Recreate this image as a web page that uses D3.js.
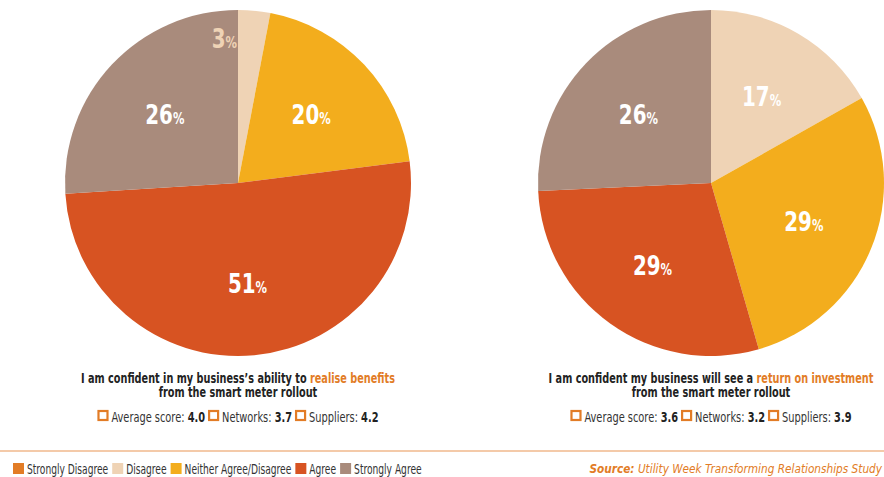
<!DOCTYPE html>
<html>
<head>
<meta charset="utf-8">
<script src="https://cdn.jsdelivr.net/npm/d3@7/dist/d3.min.js"></script>
<style>
  html, body { margin: 0; padding: 0; background: #fff; }
  svg { display: block; }
  text { font-family: "DejaVu Sans Condensed", "Liberation Sans Narrow", "Roboto", sans-serif; }
</style>
</head>
<body>
<svg id="chart" width="884" height="477"></svg>
<script>
// Response categories and their colours
const categories = ["Strongly Disagree", "Disagree", "Neither Agree/Disagree", "Agree", "Strongly Agree"];
const colors = ["#e27c26", "#efd3b5", "#f3ad1d", "#d75322", "#a98b7c"];

// Percentages per statement (same order as categories)
const benefitsValues = [0, 3, 20, 51, 26];
const returnValues = [0, 17, 29, 29, 26];

// Titles: plain part, highlighted part, closing line
const benefitsTitle = ["I am confident in my business’s ability to ", "realise benefits", "from the smart meter rollout"];
const returnTitle = ["I am confident my business will see a ", "return on investment", "from the smart meter rollout"];

// Score labels and values
const scoreLabels = ["Average score: ", "Networks: ", "Suppliers: "];
const benefitsScores = ["4.0", "3.7", "4.2"];
const returnScores = ["3.6", "3.2", "3.9"];

const sourceLabel = "Source:";
const sourceText = " Utility Week Transforming Relationships Study";

const accent = "#e27c26";
const dark = "#222";

const svg = d3.select("#chart");
const W = 884, H = 477;
const radius = 173;

// squeeze a text horizontally around its x anchor to get a condensed face
function condense(sel, k) {
  const x = +sel.attr("x");
  sel.attr("transform", `translate(${x},0) scale(${k},1) translate(${-x},0)`);
  return sel;
}

const color = d3.scaleOrdinal().domain(categories).range(colors);

const pie = d3.pie().sort(null).value(d => d.value);
const arc = d3.arc().innerRadius(0).outerRadius(radius);
const labelArc = d3.arc().innerRadius(radius * 0.58).outerRadius(radius * 0.58);

function drawPie(cx, cy, values) {
  const data = categories.map((c, i) => ({ cat: c, value: values[i] }));
  const g = svg.append("g").attr("transform", `translate(${cx},${cy})`);
  const arcs = pie(data).filter(d => d.data.value > 0);

  g.selectAll("path").data(arcs).join("path")
    .attr("d", arc)
    .attr("fill", d => color(d.data.cat));

  arcs.forEach(d => {
    const small = d.data.value < 5;
    let x, y, anchor;
    if (small) {
      // tiny slice: label sits just before the slice's leading edge
      const a = d.startAngle, r = radius * 0.84;
      x = Math.sin(a) * r - 1;
      y = -Math.cos(a) * r;
      anchor = "end";
    } else {
      [x, y] = labelArc.centroid(d);
      anchor = "middle";
    }
    const t = g.append("text")
      .attr("x", x).attr("y", y + 10)
      .attr("text-anchor", anchor)
      .attr("fill", small ? color(categories[1]) : "#fff")
      .attr("font-weight", "bold");
    t.append("tspan").attr("font-size", 26).text(d.data.value);
    t.append("tspan").attr("font-size", 15).text("%");
    condense(t, 0.85);
  });
}

function drawCaption(cx, title, scores) {
  const t1 = svg.append("text")
    .attr("x", cx).attr("y", 383.5)
    .attr("text-anchor", "middle")
    .attr("font-size", 13.5).attr("font-weight", "bold").attr("fill", dark);
  t1.append("tspan").text(title[0]);
  t1.append("tspan").attr("fill", accent).text(title[1]);
  condense(t1, 0.8);
  const t2 = svg.append("text")
    .attr("x", cx).attr("y", 397.5)
    .attr("text-anchor", "middle")
    .attr("font-size", 13.5).attr("font-weight", "bold").attr("fill", dark)
    .text(title[2]);
  condense(t2, 0.8);

  // score row: box + label + bold value, laid out by measured widths
  const k = 0.78;
  const row = svg.append("g");
  let x = 0;
  const box = 9;
  scoreLabels.forEach((lab, i) => {
    row.append("rect")
      .attr("x", x + 1).attr("y", 411)
      .attr("width", box).attr("height", box)
      .attr("fill", "#fff").attr("stroke", accent).attr("stroke-width", 2.2);
    x += box + 5;
    const tx = row.append("text")
      .attr("x", x).attr("y", 422)
      .attr("font-size", 14).attr("fill", "#333");
    tx.append("tspan").text(lab);
    tx.append("tspan").attr("font-weight", "bold").attr("fill", dark).text(scores[i]);
    x += tx.node().getComputedTextLength() * k + 3;
    condense(tx, k);
  });
  row.attr("transform", `translate(${cx - (x - 3) / 2},0)`);
}

drawPie(238, 183, benefitsValues);
drawPie(711, 183, returnValues);
drawCaption(238, benefitsTitle, benefitsScores);
drawCaption(711, returnTitle, returnScores);

// separator rule
svg.append("line")
  .attr("x1", 0).attr("x2", W).attr("y1", 451).attr("y2", 451)
  .attr("stroke", "#f0b98c").attr("stroke-width", 1.5);

// legend
const legend = svg.append("g");
let lx = 13;
const lk = 0.75;
categories.forEach(c => {
  legend.append("rect")
    .attr("x", lx).attr("y", 463)
    .attr("width", 11).attr("height", 11)
    .attr("fill", color(c));
  lx += 14;
  const t = legend.append("text")
    .attr("x", lx).attr("y", 474)
    .attr("font-size", 13.5).attr("fill", "#333")
    .text(c);
  lx += t.node().getComputedTextLength() * lk + 4;
  condense(t, lk);
});

// source note
const src = svg.append("text")
  .attr("x", 882).attr("y", 473)
  .attr("text-anchor", "end")
  .attr("font-size", 13).attr("font-style", "italic").attr("fill", accent);
src.append("tspan").attr("font-weight", "bold").text(sourceLabel);
src.append("tspan").text(sourceText);
condense(src, 0.9);
</script>
</body>
</html>
